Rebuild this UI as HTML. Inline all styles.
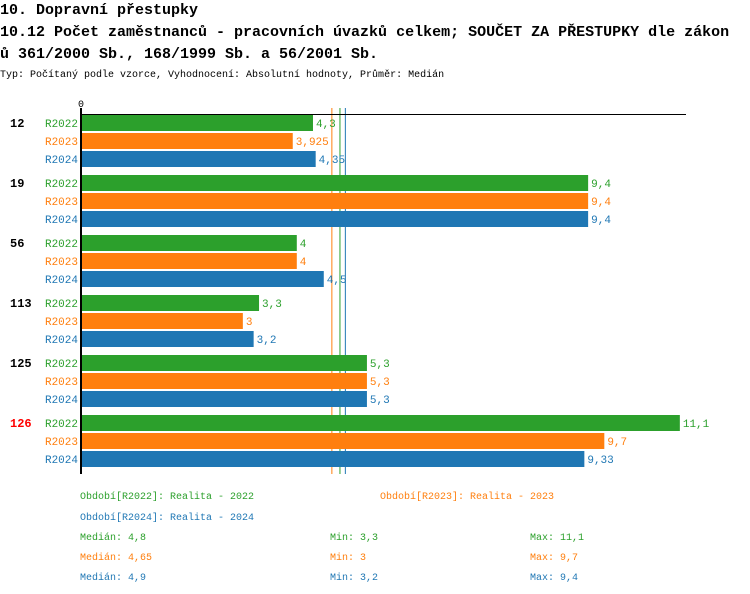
<!DOCTYPE html>
<html><head><meta charset="utf-8"><style>
body{margin:0;background:#fff;width:750px;height:594px;overflow:hidden;font-family:"Liberation Mono",monospace}
svg{position:absolute;left:0;top:0}
</style></head><body>
<svg id="c" width="750" height="594" xmlns="http://www.w3.org/2000/svg">
<text x="0" y="14" font-size="15" font-weight="bold" font-family="Liberation Mono,monospace">10. Dopravní přestupky</text>
<text x="0" y="36" font-size="15" font-weight="bold" font-family="Liberation Mono,monospace">10.12 Počet zaměstnanců - pracovních úvazků celkem; SOUČET ZA PŘESTUPKY dle zákon</text>
<text x="0" y="58" font-size="15" font-weight="bold" font-family="Liberation Mono,monospace">ů 361/2000 Sb., 168/1999 Sb. a 56/2001 Sb.</text>
<text x="0" y="77" font-size="10" font-family="Liberation Mono,monospace">Typ: Počítaný podle vzorce, Vyhodnocení: Absolutní hodnoty, Průměr: Medián</text>
<text x="78" y="107" font-size="10" font-family="Liberation Mono,monospace">0</text>
<g id="marks"></g>
</svg>
<script>
const categories=["12","19","56","113","125","126"];
const seriesNames=["R2022","R2023","R2024"];
const r2022=[4.3,9.4,4,3.3,5.3,11.1];
const r2023=[3.925,9.4,4,3,5.3,9.7];
const r2024=[4.35,9.4,4.5,3.2,5.3,9.33];
const medians=[4.8,4.65,4.9];
const mins=["3,3","3","3,2"];
const maxs=["11,1","9,7","9,4"];
const legendLabels=["Období[R2022]: Realita - 2022","Období[R2023]: Realita - 2023","Období[R2024]: Realita - 2024"];
const colors=["#2ca02c","#ff7f0e","#1f77b4"];
const series=[r2022,r2023,r2024];
const x0=81,k=53.95;
const xs=v=>x0+v*k;
const g=document.getElementById('marks');
const NS="http://www.w3.org/2000/svg";
function mk(t,a,txt){const e=document.createElementNS(NS,t);for(const n in a)e.setAttribute(n,a[n]);if(txt!==undefined)e.textContent=txt;g.appendChild(e);return e;}
const fmt=v=>String(v).replace('.',',');
medians.forEach((m,j)=>{
  const ln=mk('line',{x1:xs(m),x2:xs(m),y1:108,y2:474,stroke:colors[j],'stroke-width':1});
  
  
});
categories.forEach((c,i)=>{
  const gy=115+i*60;
  const l=mk('text',{x:10,y:gy+12,'font-size':12,'font-weight':'bold',fill:i==5?'#ff0000':'#000','font-family':'Liberation Mono,monospace'},c);
  
  
  series.forEach((s,j)=>{
    const y=gy+j*18;
    const t=mk('text',{x:78,y:y+12,'font-size':11,'text-anchor':'end',fill:colors[j],'font-family':'Liberation Mono,monospace'},seriesNames[j]);
    
    
    const r=mk('rect',{x:x0,y:y,width:xs(s[i])-x0,height:16,fill:colors[j]});
    
    
    const v=mk('text',{x:xs(s[i])+3,y:y+12,'font-size':11,fill:colors[j],'font-family':'Liberation Mono,monospace'},fmt(s[i]));
    
    
  });
});
const ax=mk('line',{x1:x0,x2:686,y1:114.5,y2:114.5,stroke:'#000','stroke-width':1});


const ay=mk('line',{x1:x0,x2:x0,y1:108,y2:474,stroke:'#000','stroke-width':2});


const lp=[[80,499],[380,499],[80,520]];
legendLabels.forEach((s,j)=>{
  const t=mk('text',{x:lp[j][0],y:lp[j][1],'font-size':10,fill:colors[j],'font-family':'Liberation Mono,monospace'},s);
  
  
});
medians.forEach((m,j)=>{
  const y=540+j*20;
  const a=mk('text',{x:80,y:y,'font-size':10,fill:colors[j],'font-family':'Liberation Mono,monospace'},'Medián: '+fmt(m));
  
  
  const b=mk('text',{x:330,y:y,'font-size':10,fill:colors[j],'font-family':'Liberation Mono,monospace'},'Min: '+mins[j]);
  
  
  const c=mk('text',{x:530,y:y,'font-size':10,fill:colors[j],'font-family':'Liberation Mono,monospace'},'Max: '+maxs[j]);
  
  
});
</script>
</body></html>
